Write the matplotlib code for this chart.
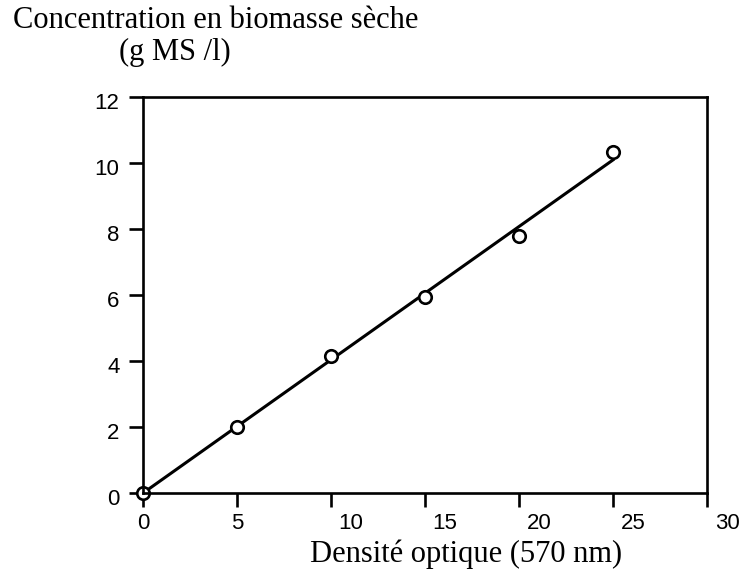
import numpy as np
import matplotlib.pyplot as plt
from matplotlib.transforms import ScaledTranslation

# densite optique (570 nm) et concentration en biomasse seche (g MS/l)
do_570 = [0, 5, 10, 15, 20, 25]
biomasse = [0.0, 2.0, 4.15, 5.95, 7.8, 10.35]

plt.rcParams['font.family'] = 'Liberation Sans'
plt.rcParams['xtick.labelsize'] = 16
plt.rcParams['ytick.labelsize'] = 16
plt.rcParams['xtick.major.pad'] = 4
plt.rcParams['ytick.major.pad'] = 7

x = np.array(do_570, dtype=float)
y = np.array(biomasse)
pente = np.sum(x * y) / np.sum(x * x)  # droite passant par l'origine

fig = plt.figure(figsize=(7.45, 5.72), dpi=100)
ax = fig.add_axes([0.192, 0.138, 0.757, 0.692])

xl = np.array([x.min(), x.max()])
ax.plot(xl, pente * xl, color='black', linewidth=2.2, zorder=2)
ax.plot(x, y, 'o', mfc='white', mec='black', mew=1.9, ms=9, zorder=2.2, clip_on=False)

ax.set_xlim(0, 30)
ax.set_ylim(0, 12)
ax.set_xticks(range(0, 31, 5))
ax.set_yticks(range(0, 13, 2))
for s in ax.spines.values():
	s.set_linewidth(1.9)
ax.tick_params(direction='out', length=10, width=1.9)
# les etiquettes a deux chiffres sont decalees vers la droite
for lab in ax.get_xticklabels():
	if len(lab.get_text()) > 1:
		lab.set_transform(lab.get_transform() + ScaledTranslation(0.2, 0, fig.dpi_scale_trans))
for lab in ax.get_yticklabels():
	lab.set_transform(lab.get_transform() + ScaledTranslation(0, -0.04, fig.dpi_scale_trans))

fig.text(0.018, 0.951, 'Concentration en biomasse sèche', family='Liberation Serif', fontsize=22, va='baseline', ha='left')
fig.text(0.16, 0.895, '(g MS /l)', family='Liberation Serif', fontsize=22, va='baseline', ha='left')
fig.text(0.626, 0.0175, 'Densité optique (570 nm)', family='Liberation Serif', fontsize=22, va='baseline', ha='center')

fig.savefig('out.png', dpi=100)
